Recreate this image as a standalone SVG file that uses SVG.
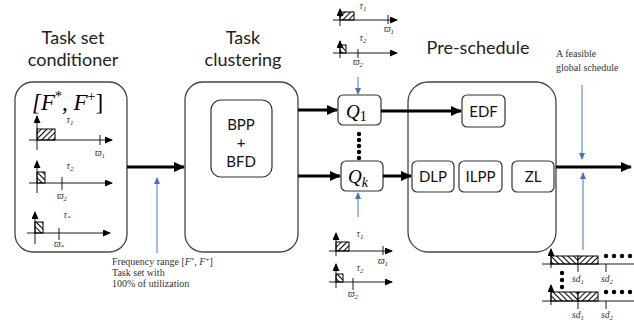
<svg xmlns="http://www.w3.org/2000/svg" width="634" height="328" viewBox="0 0 634 328">
<defs>
<style>
.title{font-family:Lato,"Liberation Sans",sans-serif;font-size:18px;fill:#222;text-anchor:middle}
.lbl{font-family:Lato,"Liberation Sans",sans-serif;font-size:15px;fill:#111;text-anchor:middle}
.big{fill:none;stroke:#444;stroke-width:1.3}
.small{fill:#fff;stroke:#333;stroke-width:1.2}
.thick{stroke:#000;stroke-width:3;fill:none}
.ax{stroke:#000;stroke-width:0.9;fill:none}
.blue{stroke:#4472C4;stroke-width:1;fill:none}
.math{font-family:"Liberation Serif","DejaVu Serif",serif;font-style:italic;fill:#000}
.tiny{font-family:"Liberation Serif","DejaVu Serif",serif;font-style:italic;font-size:9.5px;fill:#333;text-anchor:middle}
.note{font-family:"Liberation Serif","DejaVu Serif",serif;font-size:10px;fill:#333}
</style>
<marker id="ah" markerUnits="userSpaceOnUse" markerWidth="11" markerHeight="10" refX="10" refY="5" orient="auto"><path d="M0,0 L11,5 L0,10 z" fill="#000"/></marker>
<marker id="as" markerUnits="userSpaceOnUse" markerWidth="8" markerHeight="7" refX="7" refY="3.5" orient="auto"><path d="M0,0 L8,3.5 L0,7 z" fill="#000"/></marker>
<marker id="ab" markerUnits="userSpaceOnUse" markerWidth="7" markerHeight="6" refX="6" refY="3" orient="auto"><path d="M0,0 L7,3 L0,6 z" fill="#4472C4"/></marker>
<pattern id="fw" patternUnits="userSpaceOnUse" width="4" height="4" patternTransform="rotate(45)"><rect width="4" height="4" fill="#fff"/><line x1="0" y1="0" x2="0" y2="4" stroke="#000" stroke-width="2"/></pattern>
<pattern id="bw" patternUnits="userSpaceOnUse" width="4" height="4" patternTransform="rotate(-45)"><rect width="4" height="4" fill="#fff"/><line x1="0" y1="0" x2="0" y2="4" stroke="#000" stroke-width="2"/></pattern>
</defs>
<rect width="634" height="328" fill="#fff"/>

<g id="conditioner">
<text class="title" x="73" y="44">Task set</text>
<text class="title" x="73" y="66">conditioner</text>
<rect class="big" x="15" y="82" width="112" height="170" rx="18"/>
<text class="math" x="32" y="110" font-size="23" font-style="normal">[<tspan font-style="italic">F</tspan><tspan font-size="14" dy="-9" font-style="normal">*</tspan><tspan dy="9" font-style="normal">, </tspan><tspan font-style="italic">F</tspan><tspan font-size="14" dy="-9" font-style="normal">+</tspan><tspan dy="9" font-style="normal">]</tspan></text>
<rect x="37" y="129" width="18" height="11" fill="url(#fw)" stroke="#000" stroke-width="1"/>
<line class="ax" x1="37" y1="150" x2="37" y2="116" marker-end="url(#as)"/>
<line class="ax" x1="29" y1="140" x2="112" y2="140" marker-end="url(#as)"/>
<line class="ax" x1="100" y1="135" x2="100" y2="145"/>
<text class="tiny" x="70" y="123">τ<tspan font-size="7" dy="2">1</tspan></text>
<text class="tiny" x="100" y="156">ϖ<tspan font-size="7" dy="2">1</tspan></text>
<rect x="37" y="172" width="8" height="11" fill="url(#bw)" stroke="#000" stroke-width="1"/>
<line class="ax" x1="37" y1="193" x2="37" y2="161" marker-end="url(#as)"/>
<line class="ax" x1="29" y1="183" x2="112" y2="183" marker-end="url(#as)"/>
<line class="ax" x1="62" y1="177" x2="62" y2="190"/>
<text class="tiny" x="70" y="169">τ<tspan font-size="7" dy="2">2</tspan></text>
<text class="tiny" x="62" y="199">ϖ<tspan font-size="7" dy="2">2</tspan></text>
<rect x="35" y="222" width="8" height="11" fill="url(#bw)" stroke="#000" stroke-width="1"/>
<line class="ax" x1="35" y1="244" x2="35" y2="212" marker-end="url(#as)"/>
<line class="ax" x1="27" y1="233" x2="110" y2="233" marker-end="url(#as)"/>
<line class="ax" x1="59" y1="228" x2="59" y2="240"/>
<text class="tiny" x="67" y="218">τ<tspan font-size="7" dy="2">*</tspan></text>
<text class="tiny" x="59" y="247">ϖ<tspan font-size="7" dy="2">*</tspan></text>
</g>

<g id="clustering">
<text class="title" x="243" y="44">Task</text>
<text class="title" x="243" y="66">clustering</text>
<rect class="big" x="185" y="82" width="113" height="170" rx="18"/>
</g>
<g id="bpp">
<rect class="small" x="211" y="100" width="61" height="77" rx="10"/>
<text class="lbl" x="241" y="130">BPP</text>
<text class="lbl" x="241" y="148">+</text>
<text class="lbl" x="241" y="167">BFD</text>
</g>

<g id="preschedule">
<text class="title" x="478" y="54">Pre-schedule</text>
<rect class="big" x="408" y="82" width="148" height="170" rx="20"/>
</g>
<g id="edf"><rect class="small" x="462" y="95" width="43" height="32" rx="5"/><text class="lbl" x="483.5" y="117">EDF</text></g>
<g id="dlp"><rect class="small" x="412" y="161" width="42" height="31" rx="5"/><text class="lbl" x="433" y="182">DLP</text></g>
<g id="ilpp"><rect class="small" x="459" y="161" width="43" height="31" rx="5"/><text class="lbl" x="480.5" y="182">ILPP</text></g>
<g id="zl"><rect class="small" x="512" y="161" width="42" height="31" rx="5"/><text class="lbl" x="533" y="182">ZL</text></g>

<g id="q1"><rect class="small" x="338" y="95" width="43" height="30" rx="5"/><text class="math" x="346" y="118" font-size="19">Q<tspan font-style="normal" font-size="14" dy="3">1</tspan></text></g>
<g id="qk"><rect class="small" x="341" y="161" width="42" height="30" rx="5"/><text class="math" x="348" y="183" font-size="19">Q<tspan font-size="14" dy="4">k</tspan></text></g>
<g id="qdots" fill="#000"><circle cx="359" cy="134" r="2.2"/><circle cx="359" cy="140" r="2.2"/><circle cx="359" cy="146" r="2.2"/><circle cx="359" cy="152" r="2.2"/><circle cx="359" cy="158" r="2.2"/></g>

<g id="q1-tasks">
<rect x="340" y="12" width="14" height="8" fill="url(#fw)" stroke="#000" stroke-width="1"/>
<line class="ax" x1="340" y1="26" x2="340" y2="9" marker-end="url(#as)"/>
<line class="ax" x1="333" y1="20" x2="397" y2="20" marker-end="url(#as)"/>
<line class="ax" x1="388" y1="15" x2="388" y2="24"/>
<text class="tiny" x="363" y="9">τ<tspan font-size="7" dy="2">1</tspan></text>
<text class="tiny" x="389" y="32">ϖ<tspan font-size="7" dy="2">1</tspan></text>
<rect x="340" y="45" width="6" height="8" fill="url(#bw)" stroke="#000" stroke-width="1"/>
<line class="ax" x1="340" y1="58" x2="340" y2="41" marker-end="url(#as)"/>
<line class="ax" x1="333" y1="53" x2="397" y2="53" marker-end="url(#as)"/>
<line class="ax" x1="358" y1="49" x2="358" y2="58"/>
<text class="tiny" x="363" y="41">τ<tspan font-size="7" dy="2">2</tspan></text>
<text class="tiny" x="358" y="65">ϖ<tspan font-size="7" dy="2">2</tspan></text>
</g>
<g id="qk-tasks">
<rect x="336" y="242" width="13" height="9" fill="url(#fw)" stroke="#000" stroke-width="1"/>
<line class="ax" x1="336" y1="256" x2="336" y2="233" marker-end="url(#as)"/>
<line class="ax" x1="329" y1="251" x2="392" y2="251" marker-end="url(#as)"/>
<line class="ax" x1="383" y1="246" x2="383" y2="255"/>
<text class="tiny" x="360" y="237">τ<tspan font-size="7" dy="2">1</tspan></text>
<text class="tiny" x="383" y="264">ϖ<tspan font-size="7" dy="2">1</tspan></text>
<rect x="336" y="274" width="7" height="8" fill="url(#bw)" stroke="#000" stroke-width="1"/>
<line class="ax" x1="336" y1="288" x2="336" y2="264" marker-end="url(#as)"/>
<line class="ax" x1="329" y1="282" x2="392" y2="282" marker-end="url(#as)"/>
<line class="ax" x1="353" y1="278" x2="353" y2="290"/>
<text class="tiny" x="360" y="271">τ<tspan font-size="7" dy="2">2</tspan></text>
<text class="tiny" x="353" y="297">ϖ<tspan font-size="7" dy="2">2</tspan></text>
</g>

<g id="schedule">
<text class="note" x="556" y="57" font-size="11">A feasible</text>
<text class="note" x="556" y="71" font-size="11">global schedule</text>
<rect x="551" y="256" width="27" height="8" fill="url(#bw)" stroke="#000" stroke-width="1"/>
<rect x="578" y="256" width="20" height="8" fill="url(#fw)" stroke="#000" stroke-width="1"/>
<line class="ax" x1="551" y1="268" x2="551" y2="249" marker-end="url(#as)"/>
<line class="ax" x1="542" y1="264" x2="634" y2="264"/>
<line class="ax" x1="578" y1="264" x2="578" y2="272"/>
<line class="ax" x1="606" y1="264" x2="606" y2="272"/>
<circle cx="606" cy="256" r="2.2"/><circle cx="614" cy="256" r="2.2"/><circle cx="622" cy="256" r="2.2"/><circle cx="630" cy="256" r="2.2"/>
<text class="tiny" x="578" y="282" font-size="10">sd<tspan font-size="7" dy="2">1</tspan></text>
<text class="tiny" x="607" y="282" font-size="10">sd<tspan font-size="7" dy="2">2</tspan></text>
<circle cx="562" cy="273" r="2.2"/><circle cx="562" cy="280" r="2.2"/><circle cx="562" cy="287" r="2.2"/>
<rect x="551" y="292" width="27" height="9" fill="url(#bw)" stroke="#000" stroke-width="1"/>
<rect x="578" y="292" width="20" height="9" fill="url(#fw)" stroke="#000" stroke-width="1"/>
<line class="ax" x1="551" y1="305" x2="551" y2="285" marker-end="url(#as)"/>
<line class="ax" x1="542" y1="301" x2="634" y2="301"/>
<line class="ax" x1="578" y1="301" x2="578" y2="309"/>
<line class="ax" x1="606" y1="301" x2="606" y2="309"/>
<circle cx="606" cy="292" r="2.2"/><circle cx="614" cy="292" r="2.2"/><circle cx="622" cy="292" r="2.2"/><circle cx="630" cy="292" r="2.2"/>
<text class="tiny" x="578" y="318" font-size="10">sd<tspan font-size="7" dy="2">1</tspan></text>
<text class="tiny" x="607" y="318" font-size="10">sd<tspan font-size="7" dy="2">2</tspan></text>
</g>

<g id="freq-note">
<text class="note" x="112" y="265">Frequency range [<tspan font-style="italic">F</tspan><tspan font-size="7" dy="-3">*</tspan><tspan dy="3">, </tspan><tspan font-style="italic">F</tspan><tspan font-size="7" dy="-3">+</tspan><tspan dy="3">]</tspan></text>
<text class="note" x="112" y="276">Task set with</text>
<text class="note" x="112" y="287">100% of utilization</text>
</g>

<g id="connectors">
<line class="thick" x1="127" y1="167" x2="184" y2="167" marker-end="url(#ah)"/>
<line class="thick" x1="298" y1="110" x2="337" y2="110" marker-end="url(#ah)"/>
<line class="thick" x1="298" y1="176" x2="340" y2="176" marker-end="url(#ah)"/>
<line class="thick" x1="381" y1="111" x2="461" y2="111" marker-end="url(#ah)"/>
<line class="thick" x1="383" y1="176" x2="411" y2="176" marker-end="url(#ah)"/>
<line class="thick" x1="556" y1="167" x2="631" y2="167" marker-end="url(#ah)"/>
<line class="blue" x1="157" y1="253" x2="157" y2="178" marker-end="url(#ab)"/>
<line class="blue" x1="358" y1="77" x2="358" y2="94" marker-end="url(#ab)"/>
<line class="blue" x1="358" y1="217" x2="358" y2="193" marker-end="url(#ab)"/>
<line class="blue" x1="582" y1="85" x2="582" y2="159" marker-end="url(#ab)"/>
<line class="blue" x1="583" y1="250" x2="583" y2="173" marker-end="url(#ab)"/>
</g>
</svg>
